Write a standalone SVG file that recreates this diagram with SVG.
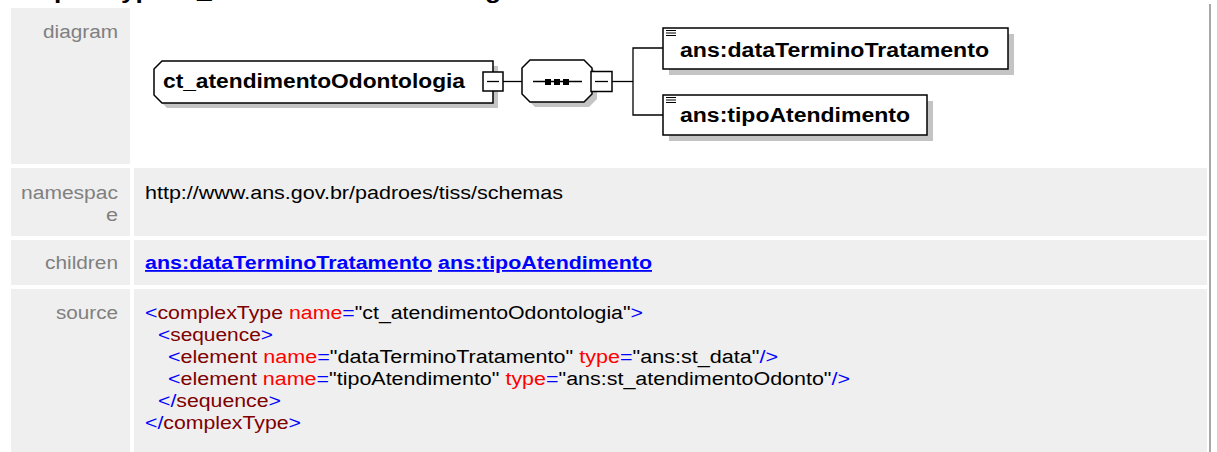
<svg xmlns="http://www.w3.org/2000/svg" width="1217" height="452" viewBox="0 0 1217 452">
<style>
.cell{fill:#efefef}
.lbl{font-family:"Liberation Sans",Arial,sans-serif;font-size:18px;fill:#808080;text-anchor:end}
.val{font-family:"Liberation Sans",Arial,sans-serif;font-size:18px;fill:#000}
.lnk{font-family:"Liberation Sans",Arial,sans-serif;font-size:18px;font-weight:bold;fill:#0000ff;text-decoration:underline}
.nt{font-family:"Liberation Sans",Arial,sans-serif;font-size:19.5px;font-weight:bold;fill:#000}
.shadow{fill:#c4c4c4;stroke:none}
.box{fill:#fff;stroke:#000;stroke-width:1.5}
.wire{fill:none;stroke:#000;stroke-width:1.3}
.b{fill:#0000ff}.r{fill:#ff0000}.d{fill:#800000}.k{fill:#000}
</style>
<rect width="1217" height="452" fill="#fff"/>
<text x="0" y="-2" font-family="'Liberation Sans',Arial,sans-serif" font-size="22" font-weight="bold" textLength="523" lengthAdjust="spacingAndGlyphs">complexType ct_atendimentoOdontologia</text>
<line x1="1210" y1="4" x2="1210" y2="452" stroke="#a8a8a8" stroke-width="2"/>

<g id="table">
<rect class="cell" x="11" y="8" width="119" height="156"/>
<rect class="cell" x="11" y="168" width="119" height="68"/>
<rect class="cell" x="134" y="168" width="1073" height="68"/>
<rect class="cell" x="11" y="240" width="119" height="45"/>
<rect class="cell" x="134" y="240" width="1073" height="45"/>
<rect class="cell" x="11" y="289" width="119" height="163"/>
<rect class="cell" x="134" y="289" width="1073" height="163"/>
<text class="lbl" x="118" y="38" textLength="75" lengthAdjust="spacingAndGlyphs">diagram</text>
<text class="lbl" x="118" y="199" textLength="97" lengthAdjust="spacingAndGlyphs">namespac</text>
<text class="lbl" x="118" y="221" textLength="12" lengthAdjust="spacingAndGlyphs">e</text>
<text class="val" x="145" y="199" textLength="418" lengthAdjust="spacingAndGlyphs">http://www.ans.gov.br/padroes/tiss/schemas</text>
<text class="lbl" x="118" y="269" textLength="73" lengthAdjust="spacingAndGlyphs">children</text>
<text class="lnk" x="145" y="269" textLength="287" lengthAdjust="spacingAndGlyphs">ans:dataTerminoTratamento</text>
<text class="lnk" x="438" y="269" textLength="214" lengthAdjust="spacingAndGlyphs">ans:tipoAtendimento</text>
<text class="lbl" x="118" y="319" textLength="62" lengthAdjust="spacingAndGlyphs">source</text>
<text class="val" x="145" y="319" textLength="498" lengthAdjust="spacingAndGlyphs"><tspan class="b">&lt;</tspan><tspan class="d">complexType</tspan> <tspan class="r">name</tspan><tspan class="b">=</tspan><tspan class="k">"ct_atendimentoOdontologia"</tspan><tspan class="b">&gt;</tspan></text>
<text class="val" x="158" y="341" textLength="115" lengthAdjust="spacingAndGlyphs"><tspan class="b">&lt;</tspan><tspan class="d">sequence</tspan><tspan class="b">&gt;</tspan></text>
<text class="val" x="168" y="363" textLength="610" lengthAdjust="spacingAndGlyphs"><tspan class="b">&lt;</tspan><tspan class="d">element</tspan> <tspan class="r">name</tspan><tspan class="b">=</tspan><tspan class="k">"dataTerminoTratamento"</tspan> <tspan class="r">type</tspan><tspan class="b">=</tspan><tspan class="k">"ans:st_data"</tspan><tspan class="b">/&gt;</tspan></text>
<text class="val" x="168" y="385" textLength="682" lengthAdjust="spacingAndGlyphs"><tspan class="b">&lt;</tspan><tspan class="d">element</tspan> <tspan class="r">name</tspan><tspan class="b">=</tspan><tspan class="k">"tipoAtendimento"</tspan> <tspan class="r">type</tspan><tspan class="b">=</tspan><tspan class="k">"ans:st_atendimentoOdonto"</tspan><tspan class="b">/&gt;</tspan></text>
<text class="val" x="158" y="407" textLength="123" lengthAdjust="spacingAndGlyphs"><tspan class="b">&lt;/</tspan><tspan class="d">sequence</tspan><tspan class="b">&gt;</tspan></text>
<text class="val" x="145" y="429" textLength="156" lengthAdjust="spacingAndGlyphs"><tspan class="b">&lt;/</tspan><tspan class="d">complexType</tspan><tspan class="b">&gt;</tspan></text>
</g>

<g id="connectors">
<line class="wire" x1="503" y1="81.5" x2="522" y2="81.5"/>
<line class="wire" x1="612" y1="81.5" x2="633" y2="81.5"/>
<polyline class="wire" points="663,48 633,48 633,115 663,115"/>
</g>

<g id="ct_atendimentoOdontologia">
<polygon class="shadow" points="167,66 498,66 498,108 167,108 159,100 159,74"/>
<polygon class="box" points="162,61 493,61 493,103 162,103 154,95 154,69"/>
<text class="nt" x="163" y="88" textLength="302" lengthAdjust="spacingAndGlyphs">ct_atendimentoOdontologia</text>
<rect class="box" x="483" y="72" width="20" height="19"/>
<line class="wire" x1="487" y1="81.5" x2="499" y2="81.5"/>
</g>

<g id="sequence">
<polygon class="shadow" points="535,65 589,65 597,73 597,99 589,107 535,107 527,99 527,73"/>
<polygon class="box" points="530,60 584,60 592,68 592,94 584,102 530,102 522,94 522,68"/>
<line class="wire" x1="533" y1="81.5" x2="582" y2="81.5"/>
<rect x="545" y="79" width="6" height="6" fill="#000"/>
<rect x="554" y="79" width="6" height="6" fill="#000"/>
<rect x="563" y="79" width="6" height="6" fill="#000"/>
<rect class="box" x="591" y="71.5" width="21" height="20"/>
<line class="wire" x1="595" y1="81.5" x2="608" y2="81.5"/>
</g>

<g id="dataTerminoTratamento">
<rect class="shadow" x="669" y="34" width="345" height="41"/>
<rect class="box" x="663" y="28" width="345" height="41"/>
<path d="M666 30.5h10M666 33h10M666 35.5h10" stroke="#000" stroke-width="1"/>
<text class="nt" x="680" y="56.5" textLength="309" lengthAdjust="spacingAndGlyphs">ans:dataTerminoTratamento</text>
</g>

<g id="tipoAtendimento">
<rect class="shadow" x="669" y="101" width="264" height="40"/>
<rect class="box" x="663" y="95" width="264" height="40"/>
<path d="M666 97.5h10M666 100h10M666 102.5h10" stroke="#000" stroke-width="1"/>
<text class="nt" x="680" y="122" textLength="230" lengthAdjust="spacingAndGlyphs">ans:tipoAtendimento</text>
</g>
</svg>
